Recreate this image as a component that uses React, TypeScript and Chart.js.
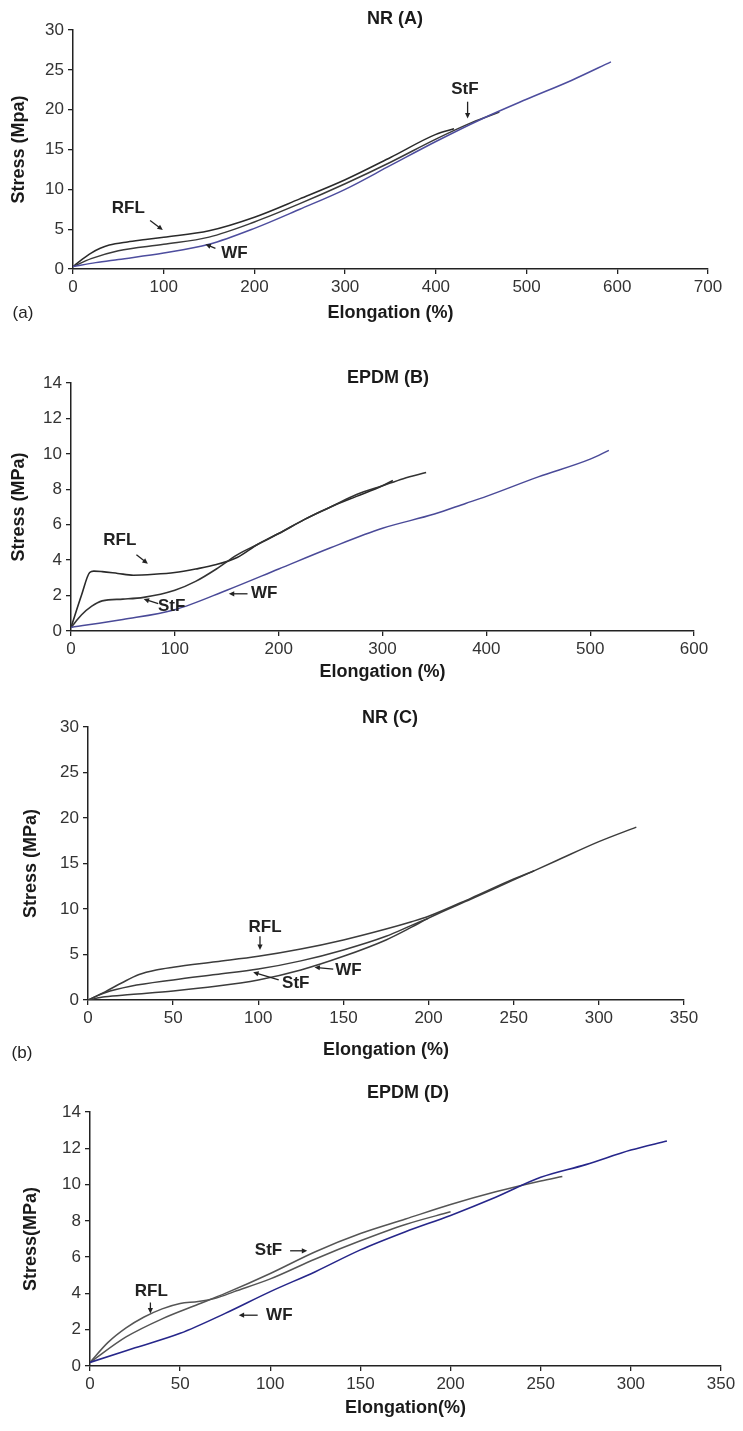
import React, { useEffect, useRef } from "react";
import { Chart, registerables } from "chart.js";

Chart.register(...registerables);

// ---------- Panel A : NR (A) ----------
const A_RFL_X = [0, 10, 20, 30, 40, 60, 80, 100, 150, 200, 250, 300, 350, 400, 420];
const A_RFL_Y = [0.3, 1.2, 2.0, 2.6, 3.0, 3.4, 3.7, 4.0, 4.8, 6.5, 8.8, 11.2, 14.0, 16.9, 17.6];
const A_STF_X = [0, 20, 50, 100, 150, 200, 250, 300, 350, 400, 440, 470];
const A_STF_Y = [0.3, 1.3, 2.3, 3.1, 4.0, 5.9, 8.2, 10.7, 13.4, 16.3, 18.4, 19.7];
const A_WF_X = [0, 25, 50, 100, 150, 200, 250, 300, 350, 400, 450, 500, 550, 593];
const A_WF_Y = [0.3, 0.8, 1.2, 2.0, 3.1, 5.1, 7.5, 10.0, 13.0, 16.0, 18.8, 21.3, 23.7, 26.0];

// ---------- Panel B : EPDM (B) ----------
const B_RFL_X = [0, 10, 18, 22, 30, 45, 60, 80, 100, 120, 140, 160, 180, 200, 225, 250, 275, 300, 310];
const B_RFL_Y = [0.2, 2.0, 3.3, 3.38, 3.35, 3.25, 3.15, 3.2, 3.3, 3.5, 3.75, 4.15, 4.9, 5.5, 6.3, 7.0, 7.6, 8.2, 8.5];
const B_STF_X = [0, 10, 20, 30, 50, 70, 100, 120, 140, 160, 180, 200, 225, 250, 275, 300, 320, 342];
const B_STF_Y = [0.2, 0.9, 1.4, 1.7, 1.8, 1.9, 2.3, 2.8, 3.5, 4.3, 4.9, 5.5, 6.3, 7.0, 7.7, 8.2, 8.6, 8.95];
const B_WF_X = [0, 50, 100, 150, 200, 250, 300, 350, 380, 400, 450, 500, 518];
const B_WF_Y = [0.2, 0.65, 1.2, 2.3, 3.5, 4.7, 5.8, 6.6, 7.2, 7.6, 8.7, 9.7, 10.2];

// ---------- Panel C : NR (C) ----------
const C_RFL_X = [0, 10, 20, 30, 40, 50, 75, 100, 125, 150, 175, 190, 200, 225, 250, 262];
const C_RFL_Y = [0, 0.9, 1.9, 2.8, 3.3, 3.6, 4.2, 4.8, 5.6, 6.6, 7.8, 8.6, 9.2, 11.2, 13.3, 14.2];
const C_STF_X = [0, 10, 25, 50, 75, 100, 125, 150, 175, 190, 200];
const C_STF_Y = [0, 0.8, 1.5, 2.2, 2.8, 3.4, 4.3, 5.5, 7.0, 8.2, 9.0];
const C_WF_X = [0, 10, 25, 50, 75, 100, 125, 150, 175, 190, 200, 225, 250, 275, 300, 322];
const C_WF_Y = [0, 0.35, 0.6, 1.0, 1.5, 2.2, 3.3, 4.8, 6.6, 8.0, 9.0, 11.1, 13.2, 15.3, 17.4, 19.0];

// ---------- Panel D : EPDM (D) ----------
const D_RFL_X = [0, 10, 20, 30, 40, 50, 60, 70, 80, 100, 125, 150, 175, 200];
const D_RFL_Y = [0.2, 1.3, 2.1, 2.7, 3.15, 3.45, 3.55, 3.75, 4.1, 4.8, 5.9, 6.9, 7.8, 8.5];
const D_STF_X = [0, 20, 40, 60, 75, 100, 125, 150, 175, 200, 225, 250, 262];
const D_STF_Y = [0.2, 1.6, 2.6, 3.4, 4.0, 5.1, 6.3, 7.3, 8.1, 8.9, 9.6, 10.2, 10.45];
const D_WF_X = [0, 25, 50, 75, 100, 125, 150, 175, 200, 225, 250, 275, 300, 320];
const D_WF_Y = [0.2, 1.0, 1.8, 2.9, 4.1, 5.2, 6.4, 7.4, 8.3, 9.3, 10.4, 11.1, 11.9, 12.4];

// ---------- labels ----------
const TITLES = ["NR (A)", "EPDM (B)", "NR (C)", "EPDM (D)"];
const X_TITLES = ["Elongation (%)", "Elongation (%)", "Elongation (%)", "Elongation(%)"];
const Y_TITLES = ["Stress (Mpa)", "Stress (MPa)", "Stress (MPa)", "Stress(MPa)"];
const X_MAX = [700, 600, 350, 350];
const X_STEP = [100, 100, 50, 50];
const Y_MAX = [30, 14, 30, 14];
const Y_STEP = [5, 2, 5, 2];

const FONT = '"Liberation Sans", Arial, sans-serif';

type Note = { text: string; tx: number; ty: number; arrow: [number, number, number, number] };
type Curve = { xs: number[]; ys: number[]; color: string; width: number };
type Panel = {
  top: number; height: number; padTop: number; padLeft: number; padRight: number;
  yWidth: number; xHeight: number; idx: number; curves: Curve[]; notes: Note[];
  titleX: number; titleY: number;
};

const PANELS: Panel[] = [
  {
    idx: 0, top: 0, height: 328, padTop: 30, padLeft: 4, padRight: 35, yWidth: 69, xHeight: 59,
    titleX: 395, titleY: 18,
    curves: [
      { xs: A_WF_X, ys: A_WF_Y, color: "#4d4d9e", width: 1.5 },
      { xs: A_STF_X, ys: A_STF_Y, color: "#3a3a3a", width: 1.5 },
      { xs: A_RFL_X, ys: A_RFL_Y, color: "#2a2a2a", width: 1.5 },
    ],
    notes: [
      { text: "RFL", tx: 61, ty: 7.6, arrow: [85, 6.1, 99, 4.9] },
      { text: "WF", tx: 178, ty: 2.0, arrow: [157, 2.6, 146, 3.1] },
      { text: "StF", tx: 432, ty: 22.6, arrow: [435, 21.0, 435, 18.9] },
    ],
  },
  {
    idx: 1, top: 330, height: 357, padTop: 53, padLeft: 4, padRight: 49, yWidth: 67, xHeight: 56,
    titleX: 388, titleY: 377,
    curves: [
      { xs: B_WF_X, ys: B_WF_Y, color: "#4a4a98", width: 1.5 },
      { xs: B_STF_X, ys: B_STF_Y, color: "#333333", width: 1.6 },
      { xs: B_RFL_X, ys: B_RFL_Y, color: "#2a2a2a", width: 1.6 },
    ],
    notes: [
      { text: "RFL", tx: 47, ty: 5.1, arrow: [63, 4.3, 74, 3.8] },
      { text: "StF", tx: 97, ty: 1.4, arrow: [84, 1.55, 70, 1.8] },
      { text: "WF", tx: 186, ty: 2.1, arrow: [170, 2.1, 152, 2.1] },
    ],
  },
  {
    idx: 2, top: 690, height: 375, padTop: 37, padLeft: 16, padRight: 59, yWidth: 72, xHeight: 65,
    titleX: 390, titleY: 717,
    curves: [
      { xs: C_WF_X, ys: C_WF_Y, color: "#3c3c3c", width: 1.5 },
      { xs: C_STF_X, ys: C_STF_Y, color: "#3c3c3c", width: 1.5 },
      { xs: C_RFL_X, ys: C_RFL_Y, color: "#3c3c3c", width: 1.5 },
    ],
    notes: [
      { text: "RFL", tx: 104, ty: 8.0, arrow: [101, 7.0, 101, 5.5] },
      { text: "StF", tx: 122, ty: 1.8, arrow: [112, 2.2, 97, 3.05] },
      { text: "WF", tx: 153, ty: 3.3, arrow: [144, 3.4, 133, 3.6] },
    ],
  },
  {
    idx: 3, top: 1065, height: 358, padTop: 47, padLeft: 16, padRight: 22, yWidth: 74, xHeight: 57,
    titleX: 408, titleY: 1092,
    curves: [
      { xs: D_WF_X, ys: D_WF_Y, color: "#26268a", width: 1.6 },
      { xs: D_STF_X, ys: D_STF_Y, color: "#555555", width: 1.5 },
      { xs: D_RFL_X, ys: D_RFL_Y, color: "#555555", width: 1.5 },
    ],
    notes: [
      { text: "RFL", tx: 34, ty: 4.1, arrow: [33.5, 3.5, 33.5, 2.9] },
      { text: "StF", tx: 99, ty: 6.35, arrow: [111, 6.35, 120.5, 6.35] },
      { text: "WF", tx: 105, ty: 2.8, arrow: [93, 2.8, 82.5, 2.8] },
    ],
  },
];

const CORNER_LABELS = [
  { text: "(a)", x: 23, y: 313 },
  { text: "(b)", x: 22, y: 1053 },
];

function makeNotePlugin(notes: Note[]) {
  return {
    id: "notes",
    afterDatasetsDraw(chart: any) {
      const { ctx } = chart;
      const xs = chart.scales.x;
      const ys = chart.scales.y;
      ctx.save();
      ctx.font = `bold 17px ${FONT}`;
      ctx.fillStyle = "#222";
      ctx.strokeStyle = "#222";
      ctx.textAlign = "center";
      ctx.textBaseline = "middle";
      notes.forEach((n) => {
        ctx.fillText(n.text, xs.getPixelForValue(n.tx), ys.getPixelForValue(n.ty));
        const x1 = xs.getPixelForValue(n.arrow[0]);
        const y1 = ys.getPixelForValue(n.arrow[1]);
        const x2 = xs.getPixelForValue(n.arrow[2]);
        const y2 = ys.getPixelForValue(n.arrow[3]);
        const ang = Math.atan2(y2 - y1, x2 - x1);
        const hl = 6;
        ctx.lineWidth = 1.3;
        ctx.beginPath();
        ctx.moveTo(x1, y1);
        ctx.lineTo(x2 - Math.cos(ang) * 3, y2 - Math.sin(ang) * 3);
        ctx.stroke();
        ctx.beginPath();
        ctx.moveTo(x2, y2);
        ctx.lineTo(x2 - hl * Math.cos(ang - 0.45), y2 - hl * Math.sin(ang - 0.45));
        ctx.lineTo(x2 - hl * Math.cos(ang + 0.45), y2 - hl * Math.sin(ang + 0.45));
        ctx.closePath();
        ctx.fill();
      });
      ctx.restore();
    },
  };
}

function PanelChart({ p }: { p: Panel }) {
  const ref = useRef<HTMLCanvasElement | null>(null);
  useEffect(() => {
    if (!ref.current) return;
    const i = p.idx;
    const tickFont = { family: FONT, size: 17 };
    const titleFont = { family: FONT, size: 18, weight: "bold" as const };
    const grid = { drawOnChartArea: false, drawTicks: true, tickLength: 5, color: "#222", lineWidth: 1.3 };
    const border = { display: true, color: "#222", width: 1.5 };
    const chart = new Chart(ref.current, {
      type: "line",
      data: {
        datasets: p.curves.map((c) => ({
          data: c.xs.map((v, k) => ({ x: v, y: c.ys[k] })),
          borderColor: c.color,
          borderWidth: c.width,
          pointRadius: 0,
          fill: false,
          cubicInterpolationMode: "monotone" as const,
        })),
      },
      options: {
        animation: false,
        responsive: false,
        maintainAspectRatio: false,
        devicePixelRatio: 1,
        events: [],
        layout: { padding: { top: p.padTop, left: p.padLeft, right: p.padRight, bottom: 0 } },
        plugins: { legend: { display: false }, tooltip: { enabled: false }, title: { display: false } },
        scales: {
          x: {
            type: "linear",
            min: 0,
            max: X_MAX[i],
            ticks: { stepSize: X_STEP[i], font: tickFont, color: "#333", padding: 3, maxRotation: 0, autoSkip: false },
            grid,
            border,
            title: { display: true, text: X_TITLES[i], font: titleFont, color: "#1a1a1a", padding: { top: 4, bottom: 4 } },
            afterFit: (s: any) => {
              s.height = p.xHeight;
              s.paddingLeft = 0;
              s.paddingRight = 0;
            },
          },
          y: {
            type: "linear",
            min: 0,
            max: Y_MAX[i],
            ticks: { stepSize: Y_STEP[i], font: tickFont, color: "#333", padding: 4 },
            grid,
            border,
            title: { display: true, text: Y_TITLES[i], font: titleFont, color: "#1a1a1a", padding: { top: 4, bottom: 4 } },
            afterFit: (s: any) => {
              s.width = p.yWidth;
              s.paddingTop = 0;
              s.paddingBottom = 0;
            },
          },
        },
      },
      plugins: [makeNotePlugin(p.notes)],
    } as any);
    return () => chart.destroy();
  }, [p]);
  return (
    <canvas
      ref={ref}
      width={743}
      height={p.height}
      style={{ position: "absolute", left: 0, top: p.top, width: 743, height: p.height }}
    />
  );
}

export default function App() {
  return (
    <div style={{ position: "absolute", left: 0, top: 0, width: 743, height: 1431, background: "#fff", overflow: "hidden" }}>
      {PANELS.map((p) => (
        <PanelChart key={p.idx} p={p} />
      ))}
      {PANELS.map((p) => (
        <div
          key={"t" + p.idx}
          style={{
            position: "absolute",
            left: p.titleX,
            top: p.titleY,
            transform: "translate(-50%, -50%)",
            font: `bold 18px ${FONT}`,
            color: "#1a1a1a",
            whiteSpace: "nowrap",
          }}
        >
          {TITLES[p.idx]}
        </div>
      ))}
      {CORNER_LABELS.map((c) => (
        <div
          key={c.text}
          style={{
            position: "absolute",
            left: c.x,
            top: c.y,
            transform: "translate(-50%, -50%)",
            font: `17px ${FONT}`,
            color: "#222",
            whiteSpace: "nowrap",
          }}
        >
          {c.text}
        </div>
      ))}
    </div>
  );
}
